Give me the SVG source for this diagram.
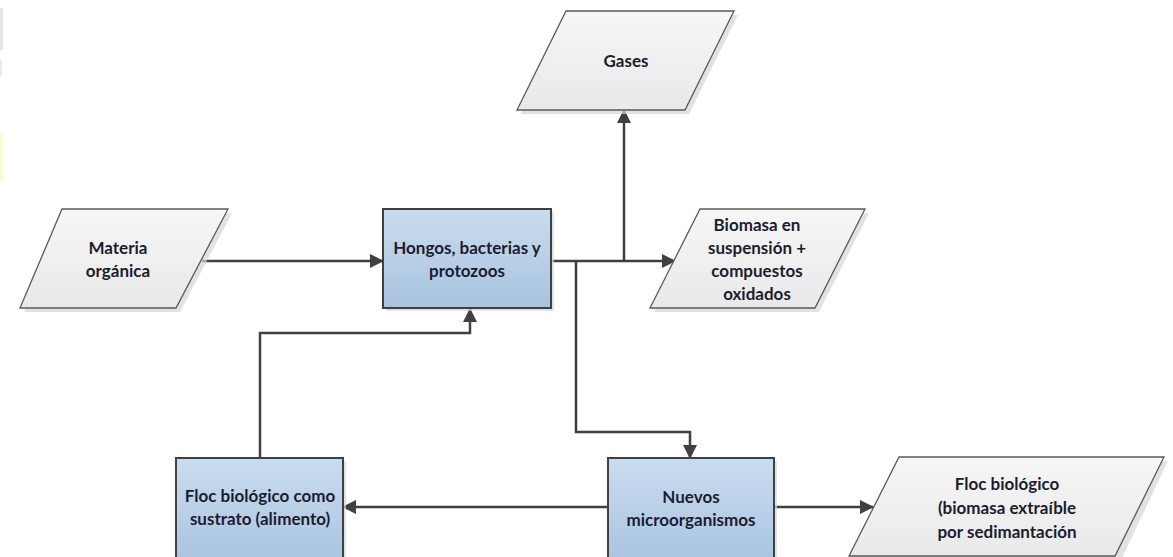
<svg xmlns="http://www.w3.org/2000/svg" width="1173" height="557" viewBox="0 0 1173 557">
  <defs>
    <linearGradient id="boxFill" x1="0" y1="0" x2="0" y2="1">
      <stop offset="0" stop-color="#c9dcef"/>
      <stop offset="1" stop-color="#a8c3df"/>
    </linearGradient>
    <linearGradient id="ioFill" x1="0" y1="0" x2="0" y2="1">
      <stop offset="0" stop-color="#f6f6f6"/>
      <stop offset="1" stop-color="#e9e9e9"/>
    </linearGradient>
    <marker id="arrow" viewBox="0 0 14 14" refX="13" refY="7" markerWidth="14" markerHeight="14" markerUnits="userSpaceOnUse" orient="auto">
      <path d="M0,0 L14,7 L0,14 Z" fill="#404040"/>
    </marker>
    <style>
      .box { fill: url(#boxFill); stroke: #404040; stroke-width: 2; }
      .io { fill: url(#ioFill); stroke: #5a5a5a; stroke-width: 1.3; }
      .shadow { fill: #d6d6d6; opacity: 0.7; }
      .label { font-family: Lato, "Open Sans", "Liberation Sans", sans-serif; font-weight: bold; font-size: 17px; fill: #1c1c30; text-anchor: middle; }
      .wire { fill: none; stroke: #404040; stroke-width: 2.5; }
    </style>
  </defs>

  <rect width="1173" height="557" fill="#ffffff"/>

  <!-- page edge marks -->
  <rect x="0" y="8" width="3" height="42" fill="#d8d8d8" opacity="0.7"/>
  <rect x="0" y="60" width="2" height="16" fill="#dcdcdc" opacity="0.6"/>
  <rect x="0" y="134" width="3" height="48" fill="#f8f8cc" opacity="0.8"/>

  <!-- connectors -->
  <g id="connectors">
    <path class="wire" d="M202,261 H383" marker-end="url(#arrow)"/>
    <path class="wire" d="M551,261 H675" marker-end="url(#arrow)"/>
    <path class="wire" d="M624,261 V110" marker-end="url(#arrow)"/>
    <path class="wire" d="M576,261 V432 H690 V458" marker-end="url(#arrow)"/>
    <path class="wire" d="M608,507 H343" marker-end="url(#arrow)"/>
    <path class="wire" d="M774,507 H873" marker-end="url(#arrow)"/>
    <path class="wire" d="M260,458 V333 H470 V309" marker-end="url(#arrow)"/>
  </g>

  <g id="materia-organica">
    <polygon class="shadow" points="66,213 232,213 180,312 24,312"/>
    <polygon class="io" points="62,209 228,209 176,308 20,308"/>
    <text class="label" x="118" y="254">Materia</text>
    <text class="label" x="118" y="277">orgánica</text>
  </g>

  <g id="hongos">
    <rect class="shadow" x="386" y="212" width="168" height="99"/>
    <rect class="box" x="383" y="209" width="168" height="99"/>
    <text class="label" x="467" y="254">Hongos, bacterias y</text>
    <text class="label" x="467" y="277">protozoos</text>
  </g>

  <g id="gases">
    <polygon class="shadow" points="570,15 738,15 689,114 521,114"/>
    <polygon class="io" points="566,11 734,11 685,110 517,110"/>
    <text class="label" x="626" y="67">Gases</text>
  </g>

  <g id="biomasa">
    <polygon class="shadow" points="704,213 869,213 819,312 654,312"/>
    <polygon class="io" points="700,209 865,209 815,308 650,308"/>
    <text class="label" x="757" y="231">Biomasa en</text>
    <text class="label" x="757" y="254">suspensión +</text>
    <text class="label" x="757" y="277">compuestos</text>
    <text class="label" x="757" y="300">oxidados</text>
  </g>

  <g id="nuevos">
    <rect class="shadow" x="611" y="461" width="166" height="110"/>
    <rect class="box" x="608" y="458" width="166" height="110"/>
    <text class="label" x="691" y="503">Nuevos</text>
    <text class="label" x="691" y="526">microorganismos</text>
  </g>

  <g id="floc-sustrato">
    <rect class="shadow" x="179" y="461" width="167" height="110"/>
    <rect class="box" x="176" y="458" width="167" height="110"/>
    <text class="label" x="260" y="502">Floc biológico como</text>
    <text class="label" x="260" y="525">sustrato (alimento)</text>
  </g>

  <g id="floc-extraible">
    <polygon class="shadow" points="903,461 1168,461 1121,560 853,560"/>
    <polygon class="io" points="899,457 1164,457 1115,556 849,556"/>
    <text class="label" x="1007" y="490">Floc biológico</text>
    <text class="label" x="1007" y="514">(biomasa extraíble</text>
    <text class="label" x="1007" y="538">por sedimantación</text>
  </g>
</svg>
